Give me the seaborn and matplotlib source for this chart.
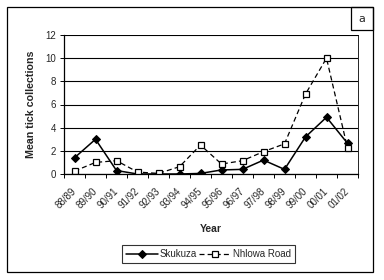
import matplotlib
matplotlib.use("Agg")
import matplotlib.pyplot as plt
import matplotlib.transforms as mtransforms
import seaborn as sns
import pandas as pd
from matplotlib.patches import Rectangle
from matplotlib.ticker import FixedLocator

years = ["88/89", "89/90", "90/91", "91/92", "92/93", "93/94", "94/95",
         "95/96", "96/97", "97/98", "98/99", "99/00", "00/01", "01/02"]
skukuza = [1.4, 3.0, 0.3, 0.0, 0.0, 0.0, 0.05, 0.35, 0.4, 1.2, 0.4, 3.2, 4.9, 2.65]
nhlowa = [0.25, 1.0, 1.15, 0.17, 0.05, 0.63, 2.5, 0.86, 1.15, 1.93, 2.6, 6.9, 10.0, 2.25]
yticks = [0, 2, 4, 6, 8, 10, 12]

sns.set_theme(style="white")
plt.rcParams['font.family'] = ['Liberation Sans', 'DejaVu Sans']

df = pd.DataFrame({
    "Year": years * 2,
    "Value": skukuza + nhlowa,
    "Site": ["Skukuza"] * len(years) + ["Nhlowa Road"] * len(years),
})
df["pos"] = list(range(len(years))) * 2

fig = plt.figure(figsize=(3.84, 2.80), dpi=100)
ax = fig.add_axes([64 / 384, 1 - 174 / 280, (358 - 64) / 384, (174 - 35) / 280])

sns.lineplot(data=df[df.Site == "Skukuza"], x="pos", y="Value", ax=ax,
             color="black", marker="D", markersize=4.5, markerfacecolor="black",
             markeredgecolor="black", linewidth=1.1, label="Skukuza")
sns.lineplot(data=df[df.Site == "Nhlowa Road"], x="pos", y="Value", ax=ax,
             color="black", marker="s", markersize=5, markerfacecolor="white",
             markeredgecolor="black", markeredgewidth=0.9, linewidth=0.9,
             dashes=(4, 2.5), label="Nhlowa Road")

ax.set_xlim(-0.5, len(years) - 0.5)
ax.set_ylim(0, 12)
ax.set_yticks(yticks)
ax.set_yticklabels([str(v) for v in yticks], fontsize=7)
ax.yaxis.grid(True, color="black", linewidth=0.8)
ax.set_axisbelow(True)

ax.set_xticks(range(len(years)))
ax.set_xticklabels(years, rotation=45, ha="right", va="center",
                   rotation_mode="anchor", fontsize=7)
shift = mtransforms.ScaledTranslation(-1.5 / 100, 0, fig.dpi_scale_trans)
for lbl in ax.get_xticklabels():
    lbl.set_transform(lbl.get_transform() + shift)
ax.xaxis.set_minor_locator(FixedLocator([i - 0.5 for i in range(len(years) + 1)]))
ax.tick_params(axis="x", which="major", length=0, pad=11)
ax.tick_params(axis="x", which="minor", length=3, width=0.7, color="black", direction="out", bottom=True)
ax.tick_params(axis="y", which="major", length=3, width=0.7, color="black", direction="out", left=True, pad=2.5)

for s in ["left", "bottom"]:
    ax.spines[s].set_color("black")
    ax.spines[s].set_linewidth(0.9)
for s in ["top", "right"]:
    ax.spines[s].set_color("black")
    ax.spines[s].set_linewidth(0.6)

ax.set_xlabel("Year", fontsize=7.5, fontweight="bold", labelpad=10)
ax.set_ylabel("Mean tick collections", fontsize=7.7, fontweight="bold", labelpad=7)

leg = ax.legend(loc="upper center", bbox_to_anchor=(0.4915, -0.511), ncol=2,
                fontsize=7, frameon=True, fancybox=False, edgecolor="black",
                handlelength=3.3, handletextpad=0.2, columnspacing=0.25,
                borderpad=0.4, borderaxespad=0)
leg.get_frame().set_linewidth(0.8)

fig.patches.append(Rectangle((7 / 384, 1 - 272 / 280), 366 / 384, 265 / 280,
                             transform=fig.transFigure, fill=False,
                             edgecolor="black", linewidth=0.9))
fig.patches.append(Rectangle((351 / 384, 1 - 30 / 280), 22 / 384, 23 / 280,
                             transform=fig.transFigure, fill=False,
                             edgecolor="black", linewidth=0.9))
fig.text(362 / 384, 1 - 18.5 / 280, "a", fontsize=8, ha="center", va="center",
         family=['DejaVu Sans'])

fig.savefig("out.png", dpi=100)
